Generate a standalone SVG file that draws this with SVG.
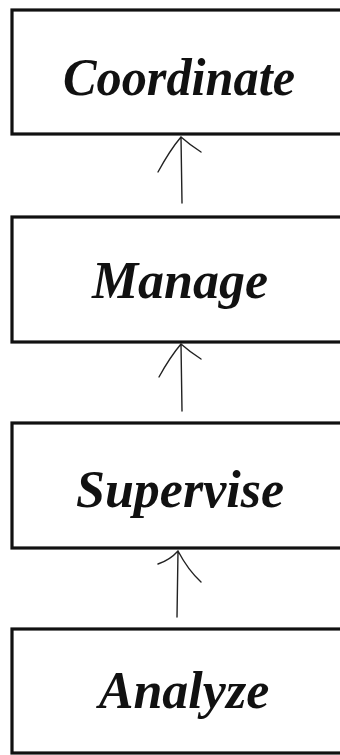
<svg xmlns="http://www.w3.org/2000/svg" width="340" height="755" viewBox="0 0 340 755">
<style>
.box{fill:#fff;stroke:#111;stroke-width:3.2}
.lbl{font-family:"Liberation Serif","DejaVu Serif",serif;font-style:italic;font-weight:bold;font-size:52px;fill:#111;text-anchor:middle}
.con{fill:none;stroke:#222;stroke-width:1.4;stroke-linecap:round}
</style>
<rect width="340" height="755" fill="#fff"/>
<g id="coordinate"><rect class="box" x="12" y="10" width="340" height="124"/><text class="lbl" x="179" y="95" textLength="232" lengthAdjust="spacingAndGlyphs">Coordinate</text></g>
<g id="manage"><rect class="box" x="12" y="217" width="340" height="125"/><text class="lbl" x="180" y="298">Manage</text></g>
<g id="supervise"><rect class="box" x="12" y="423" width="340" height="125"/><text class="lbl" x="180" y="507">Supervise</text></g>
<g id="analyze"><rect class="box" x="12" y="629" width="340" height="124"/><text class="lbl" x="184" y="708">Analyze</text></g>
<g id="connectors">
<path class="con" d="M182 203 L181 137 M181 137 Q170 150 158 172 M181 137 Q190 145 201 152"/>
<path class="con" d="M182 411 L181 344 M181 344 Q170 357 159 377 M181 344 Q190 352 201 359"/>
<path class="con" d="M177 617 L178 551 M178 551 Q170 560 158 564 M178 551 Q188 570 201 582"/>
</g>
</svg>
